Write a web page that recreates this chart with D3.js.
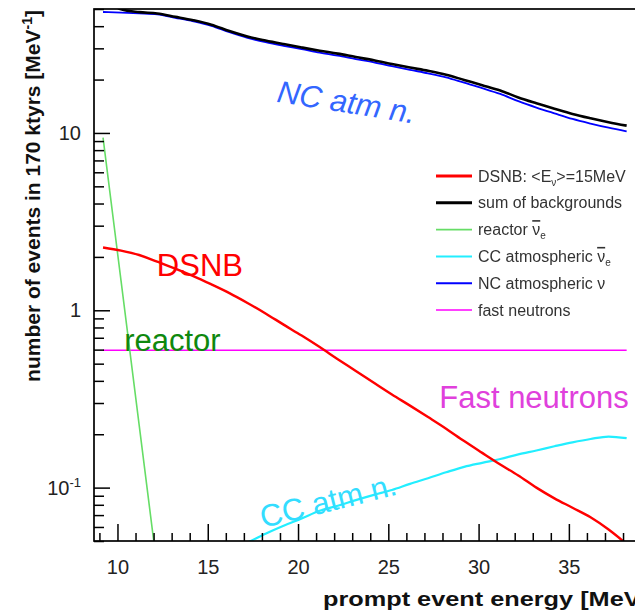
<!DOCTYPE html>
<html>
<head>
<meta charset="utf-8">
<script src="https://cdn.jsdelivr.net/npm/d3@7"></script>
<style>
  html, body { margin: 0; padding: 0; background: #fff; overflow: hidden; }
  text { font-family: "Liberation Sans", Arial, Helvetica, sans-serif; }
</style>
</head>
<body>
<svg id="chart" width="635" height="614"></svg>
<script>
// Prompt event energy grid [MeV]
const energy = [9.2, 10.2, 11.2, 12.2, 13.2, 14.2, 15.2, 16.2, 17.2, 18.2,
                19.2, 20.2, 21.2, 22.2, 23.2, 24.2, 25.2, 26.2, 27.2, 28.2,
                29.2, 30.2, 31.2, 32.2, 33.2, 34.2, 35.2, 36.2, 37.2, 38.2];

// Events per MeV in 170 kt·yrs
const dsnb = [2.26, 2.17, 2.05, 1.88, 1.72, 1.56, 1.40, 1.25, 1.10, 0.96,
              0.83, 0.72, 0.62, 0.53, 0.455, 0.39, 0.335, 0.29, 0.25, 0.215,
              0.183, 0.157, 0.135, 0.117, 0.100, 0.087, 0.077, 0.068, 0.058, 0.048];
const sumBackgrounds = [58.1, 49.8, 48.0, 47.2, 45.2, 43.2, 40.8, 37.6, 35.0, 33.2,
                        31.7, 30.35, 29.1, 28.0, 26.8, 25.7, 24.5, 23.4, 22.4, 21.3,
                        19.9, 18.6, 17.35, 15.85, 14.7, 13.7, 12.8, 12.1, 11.5, 11.0];
const reactor = [9.4, 1.46, 0.226, 0.035, null, null, null, null, null, null,
                 null, null, null, null, null, null, null, null, null, null,
                 null, null, null, null, null, null, null, null, null, null];
const ccAtm = [null, null, null, null, null, null, null, 0.044, 0.049, 0.055,
               0.061, 0.067, 0.074, 0.079, 0.085, 0.091, 0.097, 0.105, 0.113, 0.122,
               0.131, 0.138, 0.145, 0.154, 0.162, 0.171, 0.180, 0.188, 0.194, 0.190];
const ncAtm = [48.1, 47.7, 47.2, 46.6, 44.6, 42.6, 40.2, 37.0, 34.4, 32.5,
               31.0, 29.7, 28.4, 27.3, 26.1, 25.0, 23.8, 22.7, 21.7, 20.6,
               19.2, 17.9, 16.6, 15.1, 13.9, 12.9, 12.0, 11.3, 10.7, 10.2];
const fastNeutrons = [0.595, 0.595, 0.595, 0.595, 0.595, 0.595, 0.595, 0.595, 0.595, 0.595,
                      0.595, 0.595, 0.595, 0.595, 0.595, 0.595, 0.595, 0.595, 0.595, 0.595,
                      0.595, 0.595, 0.595, 0.595, 0.595, 0.595, 0.595, 0.595, 0.595, 0.595];

const xMajorTicks = [10, 15, 20, 25, 30, 35];
const yMajorTicks = [0.1, 1, 10];
const yTickLabels = [["10", "-1"], ["1", ""], ["10", ""]];

const W = 635, H = 614;
const plot = { left: 94, top: 9, right: 642, bottom: 541 };

const svg = d3.select("#chart");

const x = d3.scaleLinear().domain([8.7, 39.05]).range([plot.left, plot.right]);
const y = d3.scaleLog().domain([0.05, 50]).range([plot.bottom, plot.top]);

const defs = svg.append("defs");
defs.append("clipPath").attr("id", "plotClip")
  .append("rect")
  .attr("x", plot.left).attr("y", plot.top)
  .attr("width", plot.right - plot.left).attr("height", plot.bottom - plot.top);
defs.append("filter").attr("id", "soft")
  .append("feGaussianBlur").attr("stdDeviation", 0.45);

// ---- curves ----
const curves = [
  { values: fastNeutrons, color: "#ff00ff", width: 1.6, curve: d3.curveLinear },
  { values: reactor, color: "#66dd66", width: 1.6, curve: d3.curveLinear },
  { values: ccAtm, color: "#22eeff", width: 2.2, curve: d3.curveMonotoneX },
  { values: ncAtm, color: "#0000ff", width: 1.8, curve: d3.curveMonotoneX },
  { values: sumBackgrounds, color: "#000000", width: 2.6, curve: d3.curveMonotoneX },
  { values: dsnb, color: "#ff0000", width: 2.4, curve: d3.curveMonotoneX }
];

const gCurves = svg.append("g").attr("clip-path", "url(#plotClip)");
curves.forEach(c => {
  const line = d3.line()
    .defined((d, i) => c.values[i] != null)
    .x((d, i) => x(energy[i]))
    .y((d, i) => y(c.values[i]))
    .curve(c.curve);
  gCurves.append("path")
    .datum(c.values)
    .attr("d", line)
    .attr("fill", "none")
    .attr("stroke", c.color)
    .attr("stroke-width", c.width)
    .attr("stroke-linejoin", "round");
});

// ---- axes (ticks point inward) ----
const yMinor = [];
[0.01, 0.1, 1, 10].forEach(dec => {
  for (let k = 2; k <= 9; k++) {
    const v = dec * k;
    if (v >= 0.05 && v <= 50) yMinor.push(v);
  }
});
const xMinor = d3.range(9, 40).filter(v => v % 5 !== 0);

const gy = svg.append("g").attr("transform", `translate(${plot.left},0)`);
gy.call(d3.axisLeft(y).tickValues(yMinor).tickSizeInner(-10).tickSizeOuter(0).tickFormat(""));
gy.append("g").call(d3.axisLeft(y).tickValues(yMajorTicks).tickSizeInner(-16).tickSizeOuter(0).tickFormat(""));
gy.selectAll(".domain").remove();
gy.selectAll("line").attr("stroke", "#000").attr("stroke-width", 1.5);

const gx = svg.append("g").attr("transform", `translate(0,${plot.bottom})`);
gx.call(d3.axisBottom(x).tickValues(xMinor).tickSizeInner(-8).tickSizeOuter(0).tickFormat(""));
gx.append("g").call(d3.axisBottom(x).tickValues(xMajorTicks).tickSizeInner(-17).tickSizeOuter(0).tickPadding(19)
  .tickFormat(d3.format("d")));
gx.selectAll(".domain").remove();
gx.selectAll("line").attr("stroke", "#000").attr("stroke-width", 1.5);
gx.selectAll("text")
  .attr("font-size", 20).attr("fill", "#222")
  .attr("font-family", "'Liberation Sans', Arial, sans-serif");

// y tick labels with exponent
yMajorTicks.forEach((v, i) => {
  const t = svg.append("text")
    .attr("x", 81).attr("y", y(v) + 7)
    .attr("text-anchor", "end")
    .attr("font-size", 20).attr("fill", "#222");
  t.append("tspan").text(yTickLabels[i][0]);
  if (yTickLabels[i][1]) {
    t.append("tspan").attr("font-size", 13).attr("dy", -8).text(yTickLabels[i][1]);
  }
});

// frame
svg.append("rect")
  .attr("x", plot.left).attr("y", plot.top)
  .attr("width", plot.right - plot.left).attr("height", plot.bottom - plot.top)
  .attr("fill", "none").attr("stroke", "#000").attr("stroke-width", 1.7);

// ---- axis titles ----
svg.append("text")
  .attr("x", 323).attr("y", 606)
  .attr("font-size", 20).attr("font-weight", "bold").attr("fill", "#111")
  .attr("textLength", 326).attr("lengthAdjust", "spacingAndGlyphs")
  .text("prompt event energy [MeV]");

const yTitle = svg.append("text")
  .attr("transform", `translate(40,${plot.top + 1}) rotate(-90)`)
  .attr("text-anchor", "end")
  .attr("font-size", 21).attr("font-weight", "bold").attr("fill", "#111");
yTitle.append("tspan").text("number of events in 170 ktyrs [MeV");
yTitle.append("tspan").attr("font-size", 14).attr("dy", -8).text("-1");
yTitle.append("tspan").attr("dy", 8).text("]");

// ---- curve annotations ----
const notes = [
  { text: "NC atm n.", e: 18.78, v: 15.0, color: "#3366ff", rot: 9, italic: true },
  { text: "DSNB", e: 12.18, v: 1.557, color: "#ff0000", rot: 0, italic: false },
  { text: "reactor", e: 10.37, v: 0.588, color: "#0e880e", rot: 0, italic: false },
  { text: "Fast neutrons", e: 27.82, v: 0.2813, color: "#e040dc", rot: 0, italic: false },
  { text: "CC atm n.", e: 18.06, v: 0.0591, color: "#33ddff", rot: -14, italic: false }
];
notes.forEach(n => {
  svg.append("text")
    .attr("transform", `translate(${x(n.e)},${y(n.v)}) rotate(${n.rot})`)
    .attr("font-size", 31)
    .attr("font-style", n.italic ? "italic" : "normal")
    .attr("fill", n.color)
    .text(n.text);
});

// ---- legend ----
const legend = [
  { color: "#ff0000", width: 3, parts: [["DSNB: <E", ""], ["ν", "sub"], [">=15MeV", ""]] },
  { color: "#000000", width: 3, parts: [["sum of backgrounds", ""]] },
  { color: "#66dd66", width: 1.6, parts: [["reactor ", ""], ["ν", "bar"], ["e", "sub"]] },
  { color: "#22eeff", width: 2, parts: [["CC atmospheric ", ""], ["ν", "bar"], ["e", "sub"]] },
  { color: "#0000ff", width: 2, parts: [["NC atmospheric ν", ""]] },
  { color: "#ff00ff", width: 1.6, parts: [["fast neutrons", ""]] }
];
const gLeg = svg.append("g");
legend.forEach((d, i) => {
  const ly = 176 + i * 26.8;
  gLeg.append("line")
    .attr("x1", 436).attr("x2", 472).attr("y1", ly).attr("y2", ly)
    .attr("stroke", d.color).attr("stroke-width", d.width);
  const t = gLeg.append("text")
    .attr("x", 478).attr("y", ly + 5.5)
    .attr("font-size", 16).attr("fill", "#333")
    .attr("filter", "url(#soft)");
  let shifted = false;
  d.parts.forEach(([s, kind]) => {
    const ts = t.append("tspan").text(s);
    if (kind === "sub") {
      ts.attr("font-size", 10).attr("dy", 4);
      shifted = true;
    } else if (kind === "bar") {
      ts.attr("text-decoration", "overline");
    } else if (shifted) {
      ts.attr("dy", -4);
      shifted = false;
    }
  });
});
</script>
</body>
</html>
